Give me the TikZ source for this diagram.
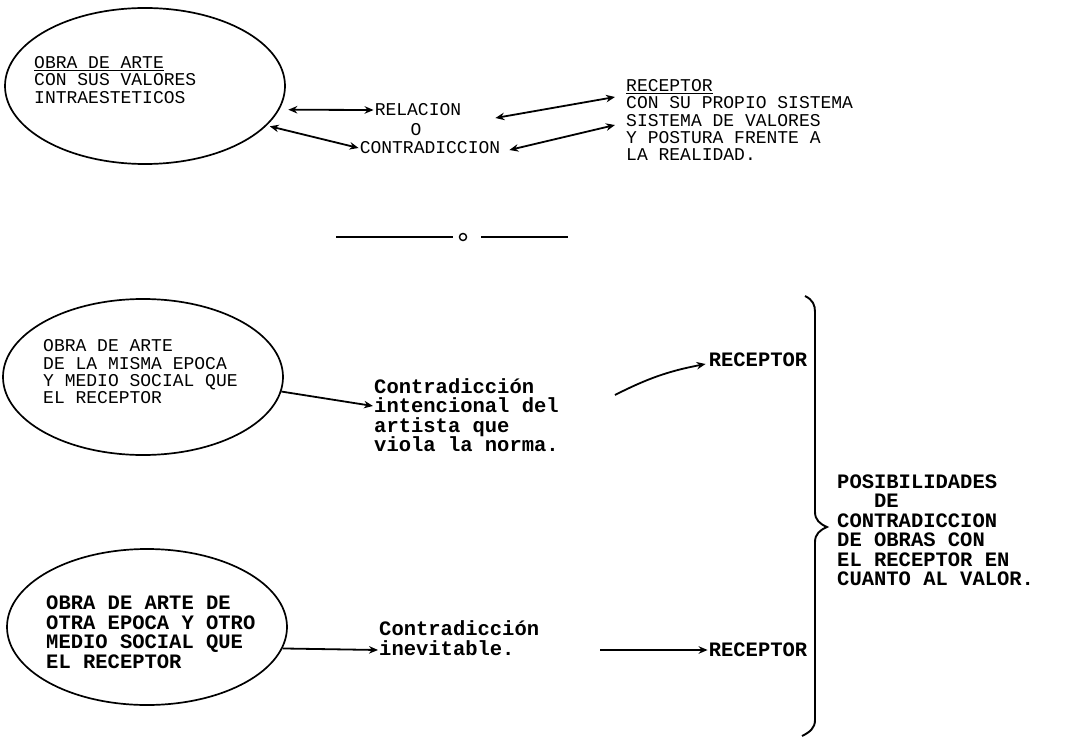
\documentclass[tikz,border=0pt]{standalone}
\usepackage{fontspec}
\newfontfamily\maquina{Liberation Mono}
\usetikzlibrary{shapes.geometric,arrows.meta}
\begin{document}
\begin{tikzpicture}[x=1pt,y=-1pt,>={Stealth[length=9pt,width=7.5pt]},
 ovalo/.style={draw,ellipse,line width=1.7pt,minimum width=280pt,minimum height=156pt,inner sep=0pt},
 tipo/.style={font=\maquina\fontsize{18}{17.3}\selectfont,align=left,inner sep=1pt},
 tipog/.style={font=\maquina\bfseries\fontsize{20.5}{19.5}\selectfont,align=left,inner sep=1pt},
 flecha/.style={line width=1.8pt}]
\useasboundingbox (0,0) rectangle (1073,738);
%elipse de arriba
 \node[ovalo] (obra1) at (145,86) {};
 \node[tipo,anchor=west] (obra1txt) at (33,80) {\underline{OBRA DE ARTE}\\CON SUS VALORES\\INTRAESTETICOS};
 \node[tipo] (relacion) at (418,110) {RELACION};
 \node[tipo] (o) at (416,130) {O};
 \node[tipo] (contra) at (430,148) {CONTRADICCION};
 \node[tipo,anchor=west] (receptor1) at (625,120) {\underline{RECEPTOR}\\CON SU PROPIO SISTEMA\\SISTEMA DE VALORES\\Y POSTURA FRENTE A\\LA REALIDAD.};
%flechas dobles
 \draw[flecha,<->,shorten <=9pt] (obra1.-10) -- (relacion.west);
 \draw[flecha,<->,shorten <=3pt] (obra1.-18) -- (contra.west);
 \draw[flecha,<->] ([shift={(33,8)}]relacion.east) -- ([shift={(-10,-23)}]receptor1.west);
 \draw[flecha,<->] ([shift={(8,2)}]contra.east) -- ([shift={(-10,5)}]receptor1.west);
%separador
 \node[draw,circle,line width=1.4pt,inner sep=2.5pt] (sep) at (463,237) {};
 \draw[line width=1.6pt] ([xshift=-6pt]sep.west) -- ++(-117,0);
 \draw[line width=1.6pt] ([xshift=14pt]sep.east) -- ++(87,0);
%segunda obra
 \node[ovalo] (obra2) at (143,377) {};
 \node[tipo,anchor=west] (obra2txt) at (42,372) {OBRA DE ARTE\\DE LA MISMA EPOCA\\Y MEDIO SOCIAL QUE\\EL RECEPTOR};
 \node[tipog,anchor=west] (contr2) at (373,415) {Contradicción\\intencional del\\artista que\\viola la norma.};
 \node[tipog] (rec2) at (758,360) {RECEPTOR};
 \draw[flecha,->] (obra2.-6) -- ([yshift=9pt]contr2.west);
 \draw[flecha,->] ([shift={(55,-20)}]contr2.east) to[bend left=8] ([shift={(-2,4)}]rec2.west);
%tercera obra
 \node[ovalo] (obra3) at (147,627) {};
 \node[tipog,anchor=west] (obra3txt) at (45,632) {OBRA DE ARTE DE\\OTRA EPOCA Y OTRO\\MEDIO SOCIAL QUE\\EL RECEPTOR};
 \node[tipog,anchor=west] (contr3) at (378,638) {Contradicción\\inevitable.};
 \node[tipog] (rec3) at (758,650) {RECEPTOR};
 \draw[flecha,->] (obra3.-9.5) -- ([yshift=-12pt]contr3.west);
 \draw[flecha,->] ([shift={(60,12)}]contr3.east) -- (rec3.west);
%llave
 \draw[line width=1.9pt] (805,296) .. controls (813,300) and (815,305) .. (815,312) -- (815,512)
   .. controls (815,520) and (820,524) .. (827,527) .. controls (820,530) and (815,534) .. (815,542)
   -- (815,720) .. controls (815,728) and (810,732) .. (802,736);
 \node[tipog,anchor=west] (posib) at (836,530) {POSIBILIDADES\\\hspace*{1.8em}DE\\CONTRADICCION\\DE OBRAS CON\\EL RECEPTOR EN\\CUANTO AL VALOR.};
\end{tikzpicture}
\end{document}
